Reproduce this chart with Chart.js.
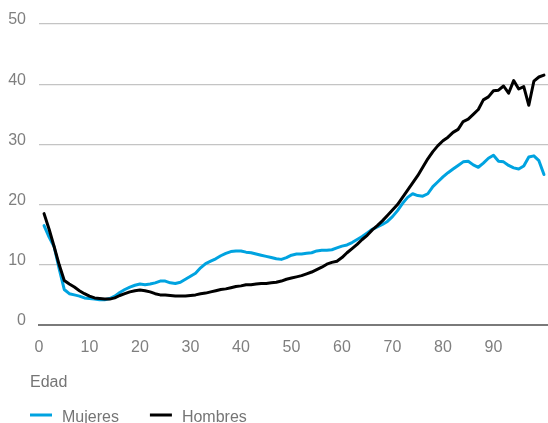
<!DOCTYPE html>
<html>
<head>
<meta charset="utf-8">
<script src="https://cdn.jsdelivr.net/npm/chart.js@4/dist/chart.umd.min.js"></script>
<style>
  html, body { margin: 0; padding: 0; background: #fff; }
</style>
</head>
<body>
<canvas id="grafico" width="548" height="423"></canvas>
<script>
// edades 1..100 (eje x)
const edades = [];
for (let e = 1; e <= 100; e++) edades.push(e);

const mujeres = [
  16.5, 14.6, 13.0, 9.3, 5.9, 5.2, 5.0, 4.8, 4.5, 4.4,
  4.3, 4.2, 4.2, 4.4, 4.8, 5.4, 5.9, 6.3, 6.6, 6.8,
  6.7, 6.8, 7.0, 7.3, 7.3, 7.0, 6.9, 7.1, 7.6, 8.1,
  8.6, 9.5, 10.2, 10.6, 11.0, 11.5, 11.9, 12.2, 12.3, 12.3,
  12.1, 12.0, 11.8, 11.6, 11.4, 11.2, 11.0, 10.9, 11.2, 11.6,
  11.8, 11.8, 11.9, 12.0, 12.3, 12.4, 12.4, 12.5, 12.8, 13.1,
  13.3, 13.7, 14.2, 14.7, 15.3, 15.9, 16.3, 16.7, 17.2, 18.0,
  19.0, 20.2, 21.2, 21.8, 21.5, 21.4, 21.8, 23.0, 23.8, 24.6,
  25.3, 25.9, 26.5, 27.1, 27.2, 26.6, 26.2, 26.9, 27.7, 28.2,
  27.2, 27.1, 26.5, 26.1, 25.9, 26.4, 27.9, 28.1, 27.3, 25.0
];
const hombres = [
  18.5, 15.9, 13.0, 10.0, 7.4, 6.8, 6.3, 5.7, 5.2, 4.8,
  4.5, 4.4, 4.3, 4.3, 4.5, 4.9, 5.2, 5.5, 5.7, 5.8,
  5.7, 5.5, 5.2, 5.0, 5.0, 4.9, 4.8, 4.8, 4.8, 4.9,
  5.0, 5.2, 5.3, 5.5, 5.7, 5.9, 6.0, 6.2, 6.4, 6.5,
  6.7, 6.7, 6.8, 6.9, 6.9, 7.0, 7.1, 7.3, 7.6, 7.8,
  8.0, 8.2, 8.5, 8.8, 9.2, 9.6, 10.1, 10.4, 10.6, 11.2,
  12.0, 12.7, 13.4, 14.2, 14.9, 15.8, 16.5, 17.3, 18.2, 19.1,
  20.0, 21.2, 22.4, 23.6, 24.8, 26.2, 27.6, 28.8, 29.8, 30.6,
  31.2, 32.0, 32.5, 33.8, 34.2, 35.0, 35.8, 37.4, 37.9, 38.9,
  39.0, 39.7, 38.5, 40.6, 39.2, 39.6, 36.5, 40.5, 41.2, 41.5
];
const ticksX = [0, 10, 20, 30, 40, 50, 60, 70, 80, 90];
const ticksY = [0, 10, 20, 30, 40, 50];

const FUENTE = '"Liberation Sans", Arial, Helvetica, sans-serif';
const GRIS = '#7f7f7f';

// "Edad" + leyenda dibujadas a mano para cuadrar posiciones
const leyenda = {
  id: 'leyenda',
  afterDraw(chart) {
    const ctx = chart.ctx;
    const left = chart.chartArea.left - 9;
    const base = chart.chartArea.bottom;
    ctx.save();
    ctx.font = '16px ' + FUENTE;
    ctx.fillStyle = '#757575';
    ctx.fillText('Edad', left, base + 61.5);
    let x = left;
    // orden de la leyenda: Mujeres, Hombres
    [1, 0].forEach(i => {
      const ds = chart.data.datasets[i];
      ctx.strokeStyle = ds.borderColor;
      ctx.lineWidth = 3;
      ctx.beginPath();
      ctx.moveTo(x, base + 90);
      ctx.lineTo(x + 22, base + 90);
      ctx.stroke();
      ctx.fillText(ds.label, x + 32, base + 96.5);
      x += 32 + ctx.measureText(ds.label).width + 31;
    });
    ctx.restore();
  }
};

new Chart(document.getElementById('grafico'), {
  type: 'line',
  data: {
    labels: edades,
    datasets: [
      { label: 'Hombres', data: hombres.map((v, i) => ({ x: edades[i], y: v })), borderColor: '#000000', backgroundColor: '#000000' },
      { label: 'Mujeres', data: mujeres.map((v, i) => ({ x: edades[i], y: v })), borderColor: '#00a3e0', backgroundColor: '#00a3e0' }
    ]
  },
  options: {
    responsive: false,
    animation: false,
    devicePixelRatio: 1,
    layout: { padding: { left: 0, right: 0, top: 24, bottom: 58 } },
    elements: {
      line: { borderWidth: 3, tension: 0, borderJoinStyle: 'round', borderCapStyle: 'round' },
      point: { radius: 0 }
    },
    plugins: { legend: { display: false }, tooltip: { enabled: false } },
    scales: {
      x: {
        type: 'linear',
        min: 0,
        max: 100.8,
        afterBuildTicks: s => { s.ticks = ticksX.map(v => ({ value: v })); },
        afterFit: s => { s.height = 40; },
        grid: { display: false, drawTicks: false },
        border: { display: true, color: '#7a7a7a', width: 2 },
        ticks: { color: GRIS, font: { family: FUENTE, size: 16 }, padding: 13, maxRotation: 0, autoSkip: false }
      },
      y: {
        min: 0,
        max: 50,
        afterBuildTicks: s => { s.ticks = ticksY.map(v => ({ value: v })); },
        afterFit: s => { s.width = 39; },
        grid: { color: '#c4c4c4', lineWidth: 1.2, drawTicks: false },
        border: { display: false },
        ticks: { color: GRIS, font: { family: FUENTE, size: 16 }, padding: 13, labelOffset: -4 }
      }
    }
  },
  plugins: [leyenda]
});
</script>
</body>
</html>
